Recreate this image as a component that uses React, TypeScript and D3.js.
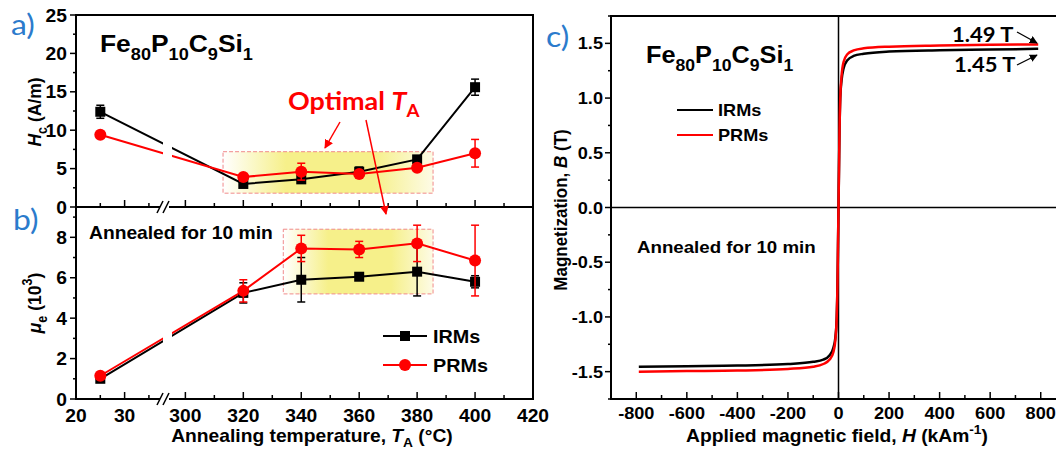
import React from 'react';
import * as d3 from 'd3';

const FONT = "'Liberation Sans', Arial, Helvetica, sans-serif";
const FONT2 = "Lato, 'Liberation Sans', sans-serif";
const SX = 1.1;
const RED = '#ff0000';
const BLUE = '#2b7bcc';

// ---- Panels a) and b): annealing temperature series ----
const annealT = [25, 320, 340, 360, 380, 400];
const hcIRM = [12.4, 3.0, 3.6, 4.6, 6.2, 15.6];
const hcIRMErr = [0.85, 0.3, 0.3, 0.6, 0.3, 1.05];
const hcPRM = [9.4, 3.9, 4.6, 4.3, 5.1, 7.0];
const hcPRMErr = [0.3, 0.3, 1.1, 0.3, 0.3, 1.8];
const muIRM = [1.0, 5.25, 5.9, 6.05, 6.3, 5.8];
const muIRMErr = [0.1, 0.5, 1.1, 0.15, 1.2, 0.3];
const muPRM = [1.15, 5.35, 7.45, 7.4, 7.7, 6.85];
const muPRMErr = [0.1, 0.55, 0.65, 0.4, 0.9, 1.75];

const tMajor = [20, 30, 300, 320, 340, 360, 380, 400, 420];
const tMinor = [25, 35, 310, 330, 350, 370, 390, 410];
const hcMajor = [0, 5, 10, 15, 20, 25];
const hcMinor = [2.5, 7.5, 12.5, 17.5, 22.5];
const muMajor = [0, 2, 4, 6, 8];
const muMinor = [1, 3, 5, 7, 9];

// optimal annealing window boxes [T0, T1, v0, v1]
const boxA = [313, 385.5, 1.8, 7.2];
const boxB = [333.8, 385.5, 5.2, 8.4];

// ---- Panel c): B-H curves ----
const hField = [-790, -600, -400, -200, -100, -60, -35, -20, -12, -7, -4, -2, 0, 2, 4, 7, 12, 20, 35, 60, 100, 200, 400, 600, 790];
const bIRM = [-1.455, -1.45, -1.445, -1.43, -1.41, -1.39, -1.35, -1.28, -1.18, -1.0, -0.7, -0.35, 0, 0.35, 0.7, 1.0, 1.16, 1.27, 1.345, 1.385, 1.405, 1.425, 1.437, 1.443, 1.45];
const bPRM = [-1.5, -1.495, -1.49, -1.475, -1.455, -1.43, -1.39, -1.32, -1.2, -1.0, -0.7, -0.35, 0, 0.35, 0.7, 1.0, 1.2, 1.33, 1.4, 1.435, 1.455, 1.47, 1.48, 1.487, 1.49];
const hMajor = [-800, -600, -400, -200, 0, 200, 400, 600, 800];
const hMinor = [-900, -700, -500, -300, -100, 100, 300, 500, 700, 900];
const bMajor = [-1.5, -1.0, -0.5, 0.0, 0.5, 1.0, 1.5];
const bMinor = [-1.75, -1.25, -0.75, -0.25, 0.25, 0.75, 1.25, 1.75];

// tick labels with a plain hyphen for negatives
const fmt1 = (v: number) => (v < 0 ? '-' : '') + Math.abs(v).toFixed(1);
const fmt0 = (v: number) => (v < 0 ? '-' : '') + Math.abs(v).toFixed(0);

type TP = {
  x: number; y: number; size: number; anchor?: string; rot?: number;
  fill?: string; family?: string; weight?: number | string; children?: React.ReactNode;
};
const Txt = ({ x, y, size, anchor = 'start', rot = 0, fill = '#000', family = FONT, weight = 700, children }: TP) => (
  <text
    transform={`translate(${x},${y})${rot ? ` rotate(${rot}) scale(1,${SX})` : ` scale(${SX},1)`}`}
    fontSize={size}
    fontFamily={family}
    fontWeight={weight}
    textAnchor={anchor}
    fill={fill}
  >
    {children}
  </text>
);

const Formula = ({ x, y, size, sub }: { x: number; y: number; size: number; sub: number }) => {
  const d = size * 0.33;
  return (
    <Txt x={x} y={y} size={size}>
      Fe<tspan fontSize={sub} dy={d}>80</tspan>
      <tspan dy={-d}>P</tspan><tspan fontSize={sub} dy={d}>10</tspan>
      <tspan dy={-d}>C</tspan><tspan fontSize={sub} dy={d}>9</tspan>
      <tspan dy={-d}>Si</tspan><tspan fontSize={sub} dy={d}>1</tspan>
    </Txt>
  );
};

export default function App() {
  const x = d3.scaleLinear().domain([20, 38, 294, 420]).range([76, 163.5, 168, 533]);
  const yA = d3.scaleLinear().domain([0, 25]).range([207, 15]);
  const yB = d3.scaleLinear().domain([0, 9.5]).range([399, 207]);
  const xC = d3.scaleLinear().domain([-900, 900]).range([611, 1066]);
  const yC = d3.scaleLinear().domain([-1.75, 1.75]).range([399, 16]);

  const lineOf = (vals: number[], y: d3.ScaleLinear<number, number>) =>
    d3.line<number>().x((_, i) => x(annealT[i])).y((v) => y(v))(vals) || '';

  const bhLine = (vals: number[]) =>
    d3.line<number>().x((_, i) => xC(hField[i])).y((v) => yC(v)).curve(d3.curveMonotoneX)(vals) || '';

  const errBars = (vals: number[], errs: number[], y: d3.ScaleLinear<number, number>, color: string) =>
    vals.map((v, i) => {
      const cx = x(annealT[i]);
      const y0 = y(v - errs[i]);
      const y1 = y(v + errs[i]);
      return (
        <g key={`e${i}`} stroke={color} strokeWidth={1.5}>
          <line x1={cx} x2={cx} y1={y0} y2={y1} />
          <line x1={cx - 4} x2={cx + 4} y1={y0} y2={y0} />
          <line x1={cx - 4} x2={cx + 4} y1={y1} y2={y1} />
        </g>
      );
    });

  const squares = (vals: number[], y: d3.ScaleLinear<number, number>) =>
    vals.map((v, i) => (
      <rect key={`s${i}`} x={x(annealT[i]) - 5} y={y(v) - 5} width={10} height={10} fill="#000" />
    ));
  const circles = (vals: number[], y: d3.ScaleLinear<number, number>) =>
    vals.map((v, i) => <circle key={`c${i}`} cx={x(annealT[i])} cy={y(v)} r={6} fill={RED} />);

  const box = (b: number[], y: d3.ScaleLinear<number, number>) => (
    <rect
      x={x(b[0])}
      y={y(b[3])}
      width={x(b[1]) - x(b[0])}
      height={y(b[2]) - y(b[3])}
      fill="url(#hl)"
      stroke="#f08a8a"
      strokeWidth={1}
      strokeDasharray="4 2"
    />
  );

  const breakMark = (yy: number) => (
    <g>
      <rect x={160} y={yy - 3} width={9} height={6} fill="#fff" />
      <line x1={157} y1={yy + 6} x2={163} y2={yy - 6} stroke="#000" strokeWidth={1.5} />
      <line x1={163} y1={yy + 6} x2={169} y2={yy - 6} stroke="#000" strokeWidth={1.5} />
    </g>
  );

  return (
    <svg width={1056} height={454} style={{ position: 'absolute', left: 0, top: 0, background: '#fff' }}>
      <defs>
        <linearGradient id="hl" x1="0" x2="1" y1="0" y2="0">
          <stop offset="0" stopColor="#ffffff" />
          <stop offset="0.3" stopColor="#f6f08a" />
          <stop offset="0.72" stopColor="#f6f08a" />
          <stop offset="1" stopColor="#fdfbe6" />
        </linearGradient>
        <marker id="arR" viewBox="0 0 10 10" refX="9" refY="5" markerWidth="9" markerHeight="9" markerUnits="userSpaceOnUse" orient="auto">
          <path d="M0,0 L10,5 L0,10 z" fill={RED} />
        </marker>
        <marker id="arK" viewBox="0 0 10 10" refX="9" refY="5" markerWidth="8" markerHeight="8" markerUnits="userSpaceOnUse" orient="auto">
          <path d="M0,0 L10,5 L0,10 z" fill="#000" />
        </marker>
      </defs>

      {/* ===== Panels a) and b) ===== */}
      {box(boxA, yA)}
      {box(boxB, yB)}

      <path d={lineOf(hcIRM, yA)} fill="none" stroke="#000" strokeWidth={2} />
      <path d={lineOf(hcPRM, yA)} fill="none" stroke={RED} strokeWidth={2} />
      <path d={lineOf(muIRM, yB)} fill="none" stroke="#000" strokeWidth={2} />
      <path d={lineOf(muPRM, yB)} fill="none" stroke={RED} strokeWidth={2} />

      {/* gap in the data lines across the axis break */}
      <rect x={163} y={17} width={9} height={188} fill="#fff" />
      <rect x={163} y={209} width={9} height={188} fill="#fff" />

      {errBars(hcIRM, hcIRMErr, yA, '#000')}
      {squares(hcIRM, yA)}
      {errBars(hcPRM, hcPRMErr, yA, RED)}
      {circles(hcPRM, yA)}
      {errBars(muIRM, muIRMErr, yB, '#000')}
      {squares(muIRM, yB)}
      {errBars(muPRM, muPRMErr, yB, RED)}
      {circles(muPRM, yB)}

      {/* frames */}
      <rect x={76} y={15} width={457} height={384} fill="none" stroke="#000" strokeWidth={2} />
      <line x1={76} x2={533} y1={207} y2={207} stroke="#000" strokeWidth={2} />

      {/* x ticks (inward) */}
      {[207, 399].map((yy) => (
        <g key={`xt${yy}`} stroke="#000" strokeWidth={1.5}>
          {tMajor.map((t) => <line key={`M${t}`} x1={x(t)} x2={x(t)} y1={yy} y2={yy - 7} />)}
          {tMinor.map((t) => <line key={`m${t}`} x1={x(t)} x2={x(t)} y1={yy} y2={yy - 4} />)}
        </g>
      ))}
      {breakMark(207)}
      {breakMark(399)}
      {tMajor.map((t) => (
        <Txt key={`xl${t}`} x={x(t)} y={422} size={17.5} anchor="middle">{t}</Txt>
      ))}

      {/* y ticks (outward) */}
      <g stroke="#000" strokeWidth={1.5}>
        {hcMajor.map((v) => <line key={`a${v}`} x1={76} x2={70} y1={yA(v)} y2={yA(v)} />)}
        {hcMinor.map((v) => <line key={`am${v}`} x1={76} x2={73} y1={yA(v)} y2={yA(v)} />)}
        {muMajor.map((v) => <line key={`b${v}`} x1={76} x2={70} y1={yB(v)} y2={yB(v)} />)}
        {muMinor.map((v) => <line key={`bm${v}`} x1={76} x2={73} y1={yB(v)} y2={yB(v)} />)}
      </g>
      {hcMajor.map((v) => (
        <Txt key={`al${v}`} x={67} y={yA(v) + 6.5} size={17.5} anchor="end">{v}</Txt>
      ))}
      {muMajor.map((v) => (
        <Txt key={`bl${v}`} x={67} y={yB(v) + 6.5} size={17.5} anchor="end">{v}</Txt>
      ))}

      {/* axis titles */}
      <Txt x={41} y={112} size={17.5} rot={-90} anchor="middle">
        <tspan fontStyle="italic">H</tspan>
        <tspan fontSize={12.5} dy={5}>c</tspan>
        <tspan dy={-5}> (A/m)</tspan>
      </Txt>
      <Txt x={41} y={303} size={17.5} rot={-90} anchor="middle">
        <tspan fontStyle="italic">μ</tspan>
        <tspan fontSize={12.5} dy={5}>e</tspan>
        <tspan dy={-5}> (10</tspan>
        <tspan fontSize={12.5} dy={-8}>3</tspan>
        <tspan dy={8}>)</tspan>
      </Txt>
      <Txt x={312} y={442} size={17.5} anchor="middle">
        Annealing temperature, <tspan fontStyle="italic">T</tspan>
        <tspan fontSize={12.5} dy={5}>A</tspan>
        <tspan dy={-5}> (°C)</tspan>
      </Txt>

      {/* labels inside panels a/b */}
      <Formula x={100} y={52} size={24} sub={16.5} />
      <Txt x={89} y={239} size={17.5}>Annealed for 10 min</Txt>

      <Txt x={288} y={110} size={24.5} fill={RED} family={FONT2}>
        Optimal <tspan fontStyle="italic">T</tspan>
        <tspan fontSize={17} dy={7}>A</tspan>
      </Txt>
      <line x1={340} y1={122} x2={325} y2={148} stroke={RED} strokeWidth={1.5} markerEnd="url(#arR)" />
      <line x1={366} y1={120} x2={386} y2={214} stroke={RED} strokeWidth={1.5} markerEnd="url(#arR)" />

      {/* legend */}
      <g>
        <line x1={383} x2={427} y1={336} y2={336} stroke="#000" strokeWidth={2} />
        <rect x={400} y={331} width={10} height={10} fill="#000" />
        <Txt x={433} y={342.5} size={18}>IRMs</Txt>
        <line x1={383} x2={427} y1={365} y2={365} stroke={RED} strokeWidth={2} />
        <circle cx={405} cy={365} r={6} fill={RED} />
        <Txt x={433} y={371.5} size={18}>PRMs</Txt>
      </g>

      {/* panel letters */}
      <Txt x={11} y={35} size={29} fill={BLUE} family={FONT2} weight={400}>a)</Txt>
      <Txt x={13} y={230} size={29} fill={BLUE} family={FONT2} weight={400}>b)</Txt>
      <Txt x={546} y={47} size={29} fill={BLUE} family={FONT2} weight={400}>c)</Txt>

      {/* ===== Panel c) ===== */}
      <line x1={xC(0)} x2={xC(0)} y1={16} y2={399} stroke="#000" strokeWidth={1.5} />
      <line x1={611} x2={1056} y1={yC(0)} y2={yC(0)} stroke="#000" strokeWidth={1.5} />
      <path d={bhLine(bIRM)} fill="none" stroke="#000" strokeWidth={2.5} />
      <path d={bhLine(bPRM)} fill="none" stroke={RED} strokeWidth={2.5} />

      <rect x={611} y={16} width={455} height={383} fill="none" stroke="#000" strokeWidth={2} />
      <g stroke="#000" strokeWidth={1.5}>
        {hMajor.map((h) => <line key={`hM${h}`} x1={xC(h)} x2={xC(h)} y1={399} y2={392} />)}
        {hMinor.map((h) => <line key={`hm${h}`} x1={xC(h)} x2={xC(h)} y1={399} y2={395} />)}
        {bMajor.map((b) => <line key={`bM${b}`} x1={611} x2={605} y1={yC(b)} y2={yC(b)} />)}
        {bMinor.map((b) => <line key={`bm${b}`} x1={611} x2={608} y1={yC(b)} y2={yC(b)} />)}
      </g>
      {hMajor.map((h) => (
        <Txt key={`hl${h}`} x={xC(h)} y={419} size={16.5} anchor="middle">{fmt0(h)}</Txt>
      ))}
      {bMajor.map((b) => (
        <Txt key={`bl${b}`} x={603} y={yC(b) + 6} size={16.5} anchor="end">{fmt1(b)}</Txt>
      ))}

      <Txt x={567} y={210} size={17} rot={-90} anchor="middle">
        Magnetization, <tspan fontStyle="italic">B</tspan> (T)
      </Txt>
      <Txt x={837} y={442} size={17.5} anchor="middle">
        Applied magnetic field, <tspan fontStyle="italic">H</tspan> (kAm
        <tspan fontSize={12.5} dy={-8}>-1</tspan>
        <tspan dy={8}>)</tspan>
      </Txt>

      <Formula x={646} y={63} size={23} sub={16} />
      <g>
        <line x1={677} x2={713} y1={110} y2={110} stroke="#000" strokeWidth={2} />
        <Txt x={718} y={116} size={16.5}>IRMs</Txt>
        <line x1={677} x2={713} y1={135} y2={135} stroke={RED} strokeWidth={2} />
        <Txt x={718} y={141} size={16.5}>PRMs</Txt>
      </g>
      <Txt x={637} y={253} size={17}>Annealed for 10 min</Txt>

      <Txt x={952} y={42} size={20} family={FONT2} weight={700}>1.49 T</Txt>
      <Txt x={954} y={72} size={20} family={FONT2} weight={700}>1.45 T</Txt>
      <line x1={1017} y1={32} x2={1037} y2={43} stroke="#000" strokeWidth={1.3} markerEnd="url(#arK)" />
      <line x1={1017} y1={65} x2={1037} y2={55} stroke="#000" strokeWidth={1.3} markerEnd="url(#arK)" />
    </svg>
  );
}
